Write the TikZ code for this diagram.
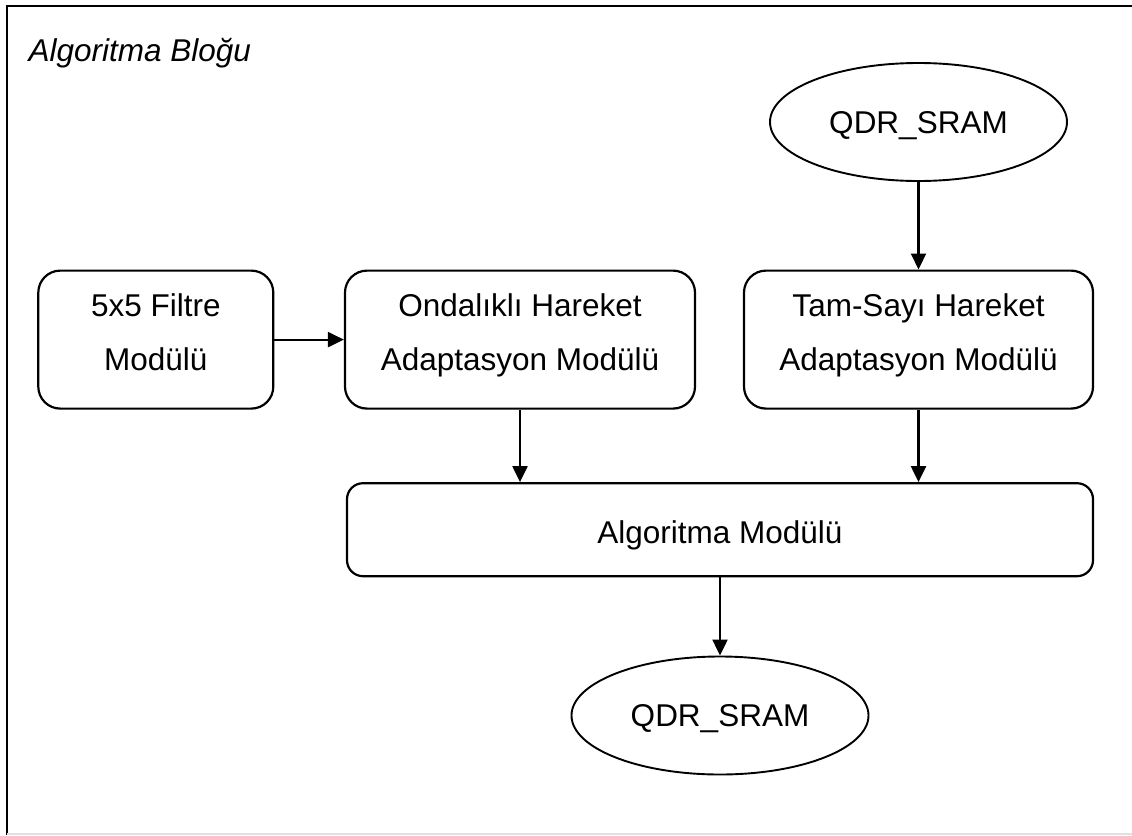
\documentclass[tikz,border=0pt]{standalone}
\usepackage{fontspec}
\setmainfont{Liberation Sans}
\usetikzlibrary{arrows.meta,shapes.geometric}
% text block of a module box: width, height, first baseline from top, lines
\newcommand\modlines[4]{\parbox[c][#2][t]{#1}{\centering\rule{0pt}{#3}#4}}
\begin{document}
\begin{tikzpicture}[x=1pt, y=-1pt,
  font=\fontsize{31.5}{54}\selectfont, line width=2.2pt,
  modbox/.style={draw, rounded corners=22pt, inner sep=0pt},
  store/.style={draw, ellipse, inner sep=0pt, minimum width=297pt,
    minimum height=118pt, line width=1.9pt, text height=22.6pt, text depth=0pt},
  flow/.style={-{Triangle[length=16pt,width=15pt]}, line width=2.2pt}]
\useasboundingbox (0,0) rectangle (1132,835);
% enclosing frame
\draw[line width=2.2pt] (7,835) -- (7,6) -- (1132,6);
\draw[black!12, line width=1.5pt] (7,834) -- (1132,834);
\node[anchor=base west, inner sep=0pt] (title) at (27.5,61) {\itshape Algoritma Bloğu};
% modules
\node[modbox] (filt) at (155.8,339.6) {\modlines{235pt}{138pt}{46pt}{5x5 Filtre\\Modülü}};
\node[modbox] (ond) at (520,339.6) {\modlines{350pt}{138pt}{46pt}{Ondalıklı Hareket\\Adaptasyon Modülü}};
\node[modbox] (tam) at (918.5,339.6) {\modlines{349pt}{138pt}{46pt}{Tam-Sayı Hareket\\Adaptasyon Modülü}};
\node[modbox, rounded corners=16pt] (alg) at (720,529.7) {\modlines{746pt}{93pt}{60.7pt}{Algoritma Modülü}};
% memories
\node[store] (qtop) at (918.5,122) {QDR\_SRAM};
\node[store] (qbot) at (720,715.5) {QDR\_SRAM};
% data flow
\draw[flow] (filt.east) -- (ond.west);
\draw[flow] (qtop.south) -- (tam.north);
\draw[flow] (ond.south) -- (ond.south |- alg.north);
\draw[flow] (tam.south) -- (tam.south |- alg.north);
\draw[flow] (alg.south -| qbot.north) -- (qbot.north);
\end{tikzpicture}
\end{document}
